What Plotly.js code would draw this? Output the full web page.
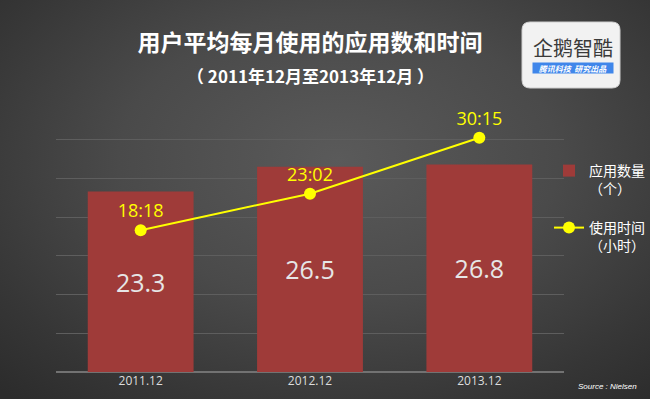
<!DOCTYPE html>
<html>
<head>
<meta charset="utf-8">
<script src="https://cdn.plot.ly/plotly-3.0.1.min.js"></script>
<style>
html,body{margin:0;padding:0;}
body{width:650px;height:399px;overflow:hidden;
background:radial-gradient(ellipse 75% 80% at 52% 40%, #5a5a5a 0%, #4a4a4a 45%, #363636 80%, #2c2c2c 100%);}
#chart{width:650px;height:399px;}
</style>
</head>
<body>
<div id="chart"></div>
<script>
// ---- data ----
const categories = ["2011.12", "2012.12", "2013.12"];
const appCounts = [23.3, 26.5, 26.8];
const usageHours = [18 + 18/60, 23 + 2/60, 30 + 15/60];
const usageLabels = ["18:18", "23:02", "30:15"];
const barName = "应用数量<br>（个）";
const lineName = "使用时间<br>（小时）";
const titleText = "用户平均每月使用的应用数和时间";
const subtitleText = "（ 2011年12月至2013年12月 ）";
const sourceText = "Source : Nielsen";
const logoText = "企鹅智酷";
const logoTag = "腾讯科技  研究出品";

const cjk = "'Noto Sans CJK SC', 'Noto Sans', sans-serif";
const num = "'Open Sans', 'Noto Sans CJK SC', sans-serif";

const traces = [
  {
    type: "bar",
    x: categories,
    y: appCounts,
    name: barName,
    width: 0.625,
    marker: {color: "#9f3b39"},
    text: appCounts.map(v => v.toFixed(1)),
    textposition: "inside",
    insidetextanchor: "middle",
    textfont: {family: num, size: 25, color: "#e6e6e6"},
    legend: "legend",
    hoverinfo: "skip"
  },
  {
    type: "scatter",
    mode: "lines+markers+text",
    x: categories,
    y: usageHours,
    name: lineName,
    line: {color: "#ffff00", width: 2},
    marker: {color: "#ffff00", size: 12},
    text: usageLabels,
    textposition: "top center",
    textfont: {family: num, size: 18, color: "#ffff00"},
    cliponaxis: false,
    legend: "legend2",
    hoverinfo: "skip"
  }
];

const L = 56, R = 86, T = 101, B = 27, W = 650, H = 399;
const pw = W - L - R, ph = H - T - B;
const px = v => (v - L) / pw;
const py = v => (H - B - v) / ph;

// logo box (rounded rect)
const bx0 = px(522), bx1 = px(620), by0 = py(88), by1 = py(22);
const rx = 8 / pw, ry = 8 / ph;
const logoPath = `M ${bx0+rx},${by1} L ${bx1-rx},${by1} Q ${bx1},${by1} ${bx1},${by1-ry} L ${bx1},${by0+ry} Q ${bx1},${by0} ${bx1-rx},${by0} L ${bx0+rx},${by0} Q ${bx0},${by0} ${bx0},${by0+ry} L ${bx0},${by1-ry} Q ${bx0},${by1} ${bx0+rx},${by1} Z`;

const layout = {
  width: W, height: H,
  margin: {l: L, r: R, t: T, b: B, pad: 0, autoexpand: false},
  paper_bgcolor: "rgba(0,0,0,0)",
  plot_bgcolor: "rgba(0,0,0,0)",
  font: {family: cjk, color: "#ffffff"},
  title: {
    text: "<b>" + titleText + "</b>",
    font: {family: cjk, size: 23, color: "#ffffff"},
    x: 0.5, xref: "paper", xanchor: "center",
    y: 1 - 43 / H, yref: "container", yanchor: "middle"
  },
  xaxis: {
    type: "category",
    range: [-0.5, 2.5],
    showgrid: false,
    zeroline: false,
    showline: false,
    ticks: "",
    tickfont: {family: num, size: 12, color: "#dddddd"},
    fixedrange: true
  },
  yaxis: {
    range: [0, 35],
    dtick: 5,
    showticklabels: false,
    showgrid: true,
    gridcolor: "#5e5e5e",
    gridwidth: 1,
    zeroline: true,
    zerolinecolor: "#727272",
    zerolinewidth: 2,
    fixedrange: true
  },
  bargap: 0.375,
  showlegend: true,
  legend: {
    x: px(549), y: py(155), xanchor: "left", yanchor: "top",
    bgcolor: "rgba(0,0,0,0)",
    font: {family: cjk, size: 14, color: "#ffffff"},
    itemwidth: 30, valign: "top", traceorder: "normal"
  },
  legend2: {
    x: px(549), y: py(212), xanchor: "left", yanchor: "top",
    bgcolor: "rgba(0,0,0,0)",
    font: {family: cjk, size: 14, color: "#ffffff"},
    itemwidth: 30, valign: "top"
  },
  shapes: [
    {
      type: "path", xref: "paper", yref: "paper",
      path: logoPath,
      fillcolor: "#f2f2f2",
      line: {color: "#cfcfcf", width: 1},
      layer: "above"
    }
  ],
  annotations: [
    {
      text: "<b>" + subtitleText + "</b>",
      xref: "paper", yref: "paper", x: 0.5, y: py(75),
      xanchor: "center", yanchor: "middle", showarrow: false,
      font: {family: cjk, size: 17, color: "#ffffff"}
    },
    {
      text: sourceText,
      xref: "paper", yref: "paper", x: px(607), y: py(386),
      xanchor: "center", yanchor: "middle", showarrow: false,
      font: {family: "'Liberation Sans', sans-serif", size: 8, color: "#ffffff", style: "italic"}
    },
    {
      text: logoText,
      xref: "paper", yref: "paper", x: px(573), y: py(48),
      xanchor: "center", yanchor: "middle", showarrow: false,
      font: {family: cjk, size: 20, color: "#3a3a3a"}
    },
    {
      text: "<b>" + logoTag + "</b>",
      xref: "paper", yref: "paper", x: px(572.5), y: py(68),
      xanchor: "center", yanchor: "middle", showarrow: false,
      width: 80, height: 10, bgcolor: "#3f86ea", borderpad: 0,
      font: {family: cjk, size: 8, color: "#ffffff", style: "italic"}
    }
  ]
};

Plotly.newPlot("chart", traces, layout, {displayModeBar: false, staticPlot: true});
</script>
</body>
</html>
